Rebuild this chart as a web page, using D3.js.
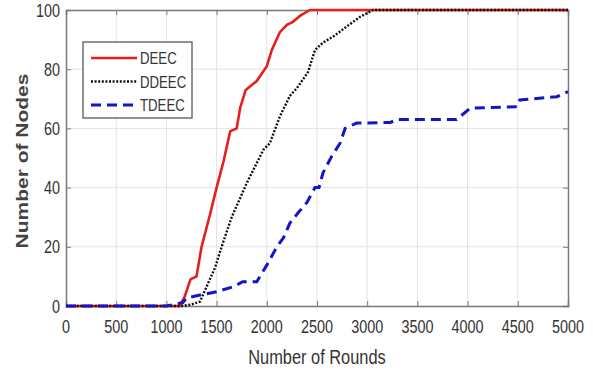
<!DOCTYPE html>
<html>
<head>
<meta charset="utf-8">
<script src="https://cdn.jsdelivr.net/npm/d3@7"></script>
<style>
  body { margin: 0; background: #fff; }
  text { font-family: "Liberation Sans", Arial, sans-serif; fill: #333; }
</style>
</head>
<body>
<svg id="chart" width="593" height="370"></svg>
<script>
// x ticks / y ticks
var xTicks = [0, 500, 1000, 1500, 2000, 2500, 3000, 3500, 4000, 4500, 5000];
var yTicks = [0, 20, 40, 60, 80, 100];

// DEEC (red solid)
var deecRounds = [0, 1130, 1180, 1240, 1300, 1350, 1435, 1500, 1570, 1635, 1700, 1735, 1790, 1900, 2000, 2050, 2130, 2200, 2260, 2330, 2430, 5000];
var deecNodes  = [0, 0, 3, 9, 10, 20, 31, 40, 49, 59, 60, 67, 73, 76, 81, 86.5, 92.5, 95, 96, 98, 100, 100];

// DDEEC (black dotted)
var ddeecRounds = [0, 1150, 1250, 1335, 1400, 1485, 1550, 1650, 1800, 1965, 2030, 2130, 2230, 2300, 2410, 2480, 2560, 2660, 2795, 2930, 3060, 5000];
var ddeecNodes  = [0, 0, 0.5, 1.5, 6.5, 13, 20, 30, 41.5, 52.7, 55, 64, 71, 73.6, 79, 86.5, 89, 91, 94.4, 97.7, 100, 100];

// TDEEC (blue dashed)
var tdeecRounds = [0, 1000, 1140, 1160, 1200, 1335, 1500, 1665, 1760, 1900, 2000, 2100, 2165, 2230, 2310, 2400, 2480, 2520, 2560, 2645, 2730, 2780, 2895, 3230, 3300, 3890, 4025, 4490, 4520, 4890, 5000];
var tdeecNodes  = [0, 0, 1, 1, 2.7, 3.7, 4.8, 6.5, 8.2, 8.2, 13.8, 20, 23, 28, 31.4, 35, 40, 40, 45, 50.5, 55, 60, 61.8, 62, 63, 63, 66.8, 67.3, 69.6, 70.7, 72.4];

var seriesNames = ["DEEC", "DDEEC", "TDEEC"];

var svg = d3.select("#chart");
var plotLeft = 66, plotRight = 568, plotTop = 10, plotBottom = 306;
var sx = 0.8; // picture is squeezed horizontally

var x = d3.scaleLinear().domain([0, 5000]).range([plotLeft, plotRight]);
var y = d3.scaleLinear().domain([0, 100]).range([plotBottom, plotTop]);

// grid
svg.append("g").selectAll("line").data(xTicks.slice(1, -1)).enter().append("line")
    .attr("x1", function (d) { return x(d); }).attr("x2", function (d) { return x(d); })
    .attr("y1", plotTop).attr("y2", plotBottom)
    .style("stroke", "#e3e3e3").style("stroke-width", 1);
svg.append("g").selectAll("line").data(yTicks.slice(1, -1)).enter().append("line")
    .attr("x1", plotLeft).attr("x2", plotRight)
    .attr("y1", function (d) { return y(d); }).attr("y2", function (d) { return y(d); })
    .style("stroke", "#e3e3e3").style("stroke-width", 1);

// axes, ticks inward like matlab
var xAxisB = d3.axisBottom(x).tickValues(xTicks).tickSize(-5).tickFormat("");
var xAxisT = d3.axisTop(x).tickValues(xTicks).tickSize(-5).tickFormat("");
var yAxisL = d3.axisLeft(y).tickValues(yTicks).tickSize(-5).tickFormat("");
var yAxisR = d3.axisRight(y).tickValues(yTicks).tickSize(-5).tickFormat("");
[[xAxisB, "translate(0," + plotBottom + ")"], [xAxisT, "translate(0," + plotTop + ")"],
 [yAxisL, "translate(" + plotLeft + ",0)"], [yAxisR, "translate(" + plotRight + ",0)"]].forEach(function (a) {
    var g = svg.append("g").attr("transform", a[1]).call(a[0]);
    g.select(".domain").style("stroke", "#7a7a7a").style("stroke-width", 1.5);
    g.selectAll(".tick line").style("stroke", "#7a7a7a").style("stroke-width", 1);
});

// tick labels
svg.append("g").selectAll("text").data(xTicks).enter().append("text")
    .attr("transform", function (d) { return "translate(" + x(d) + ",333) scale(" + sx + ",1)"; })
    .attr("text-anchor", "middle")
    .style("font-size", "18px")
    .text(function (d) { return d; });
svg.append("g").selectAll("text").data(yTicks).enter().append("text")
    .attr("transform", function (d) { return "translate(60," + (y(d) + 6.5) + ") scale(" + sx + ",1)"; })
    .attr("text-anchor", "end")
    .style("font-size", "18px")
    .text(function (d) { return d; });

// axis labels
svg.append("text")
    .attr("transform", "translate(317,364) scale(" + sx + ",1)")
    .attr("text-anchor", "middle")
    .style("font-size", "20.5px")
    .text("Number of Rounds");
svg.append("text")
    .attr("transform", "translate(28,161) scale(" + sx + ",1) rotate(-90)")
    .attr("text-anchor", "middle")
    .style("font-size", "21px")
    .style("font-weight", "bold")
    .style("fill", "#444")
    .text("Number of Nodes");

// lines
var line = d3.line().x(function (d) { return x(d[0]); }).y(function (d) { return y(d[1]); });
function pairs(r, n) { return r.map(function (v, i) { return [v, n[i]]; }); }

var styles = [
    { color: "#e3201e", width: 2.6, dash: null },
    { color: "#111", width: 2.4, dash: "2,1.6" },
    { color: "#1515c8", width: 3, dash: "10,6" }
];
var data = [pairs(deecRounds, deecNodes), pairs(ddeecRounds, ddeecNodes), pairs(tdeecRounds, tdeecNodes)];

data.forEach(function (d, i) {
    svg.append("path").datum(d)
        .attr("d", line)
        .style("fill", "none")
        .style("stroke", styles[i].color)
        .style("stroke-width", styles[i].width)
        .style("stroke-dasharray", styles[i].dash);
});

// legend
var lg = svg.append("g");
lg.append("rect").attr("x", 83).attr("y", 42).attr("width", 109).attr("height", 76)
    .style("fill", "#fff").style("stroke", "#6e6e6e").style("stroke-width", 1.5);
seriesNames.forEach(function (name, i) {
    var ly = 58 + i * 23.5;
    lg.append("line").attr("x1", 91).attr("x2", 137).attr("y1", ly).attr("y2", ly)
        .style("stroke", styles[i].color)
        .style("stroke-width", styles[i].width)
        .style("stroke-dasharray", styles[i].dash);
    lg.append("text")
        .attr("transform", "translate(140," + (ly + 6) + ") scale(" + sx + ",1)")
        .style("font-size", "16.5px")
        .text(name);
});
</script>
</body>
</html>
